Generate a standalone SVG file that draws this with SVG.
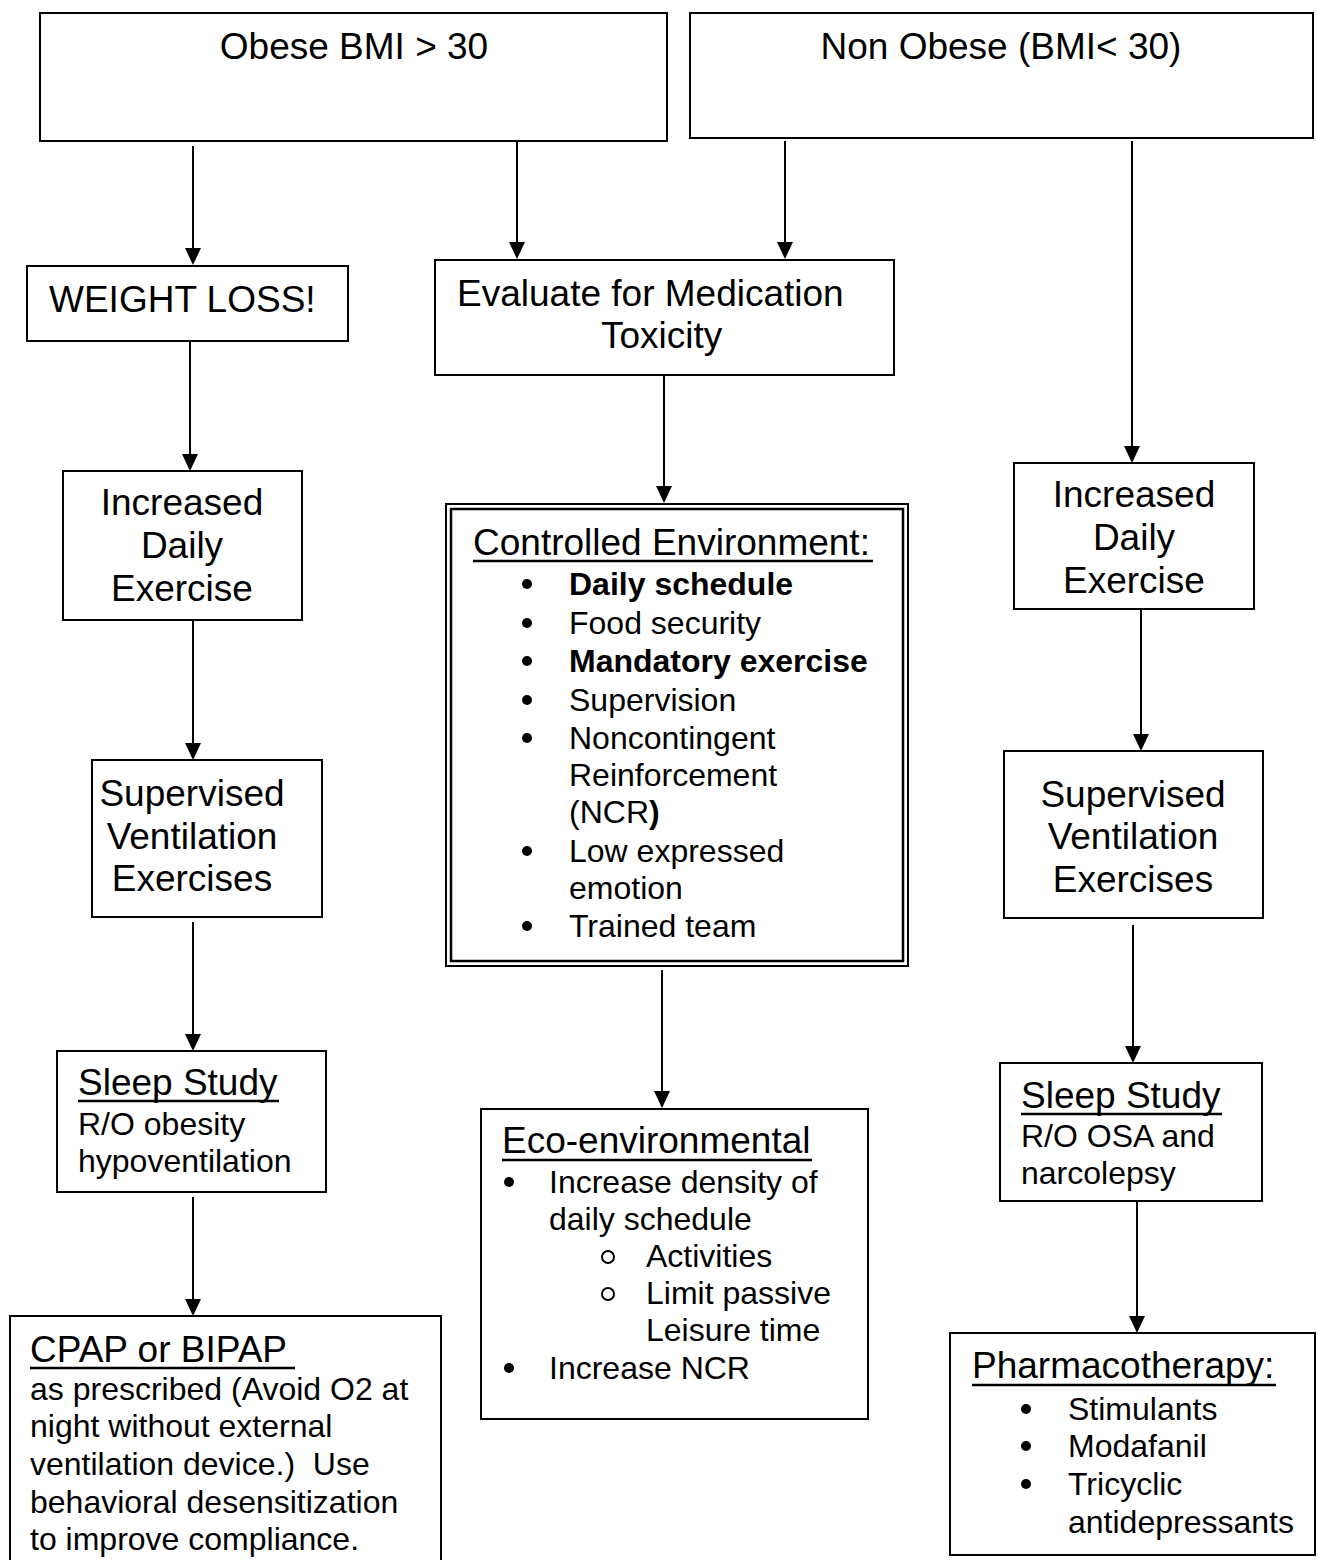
<svg xmlns="http://www.w3.org/2000/svg" width="1318" height="1560" viewBox="0 0 1318 1560">
<style>
.box{fill:#fff;stroke:#000;stroke-width:2}
.h{font-family:"Liberation Sans",Arial,sans-serif;font-size:37px;fill:#000}
.t{font-family:"Liberation Sans",Arial,sans-serif;font-size:32px;fill:#000}
.b{font-weight:bold}
.c{text-anchor:middle}
.ul{stroke:#000;stroke-width:2.5}
.conn line{stroke:#000;stroke-width:2;marker-end:url(#ah)}
</style>
<defs>
<marker id="ah" markerUnits="userSpaceOnUse" markerWidth="17" markerHeight="16" refX="0" refY="8" orient="auto" overflow="visible">
<path d="M0,0 L17,8 L0,16 Z" fill="#000"/>
</marker>
</defs>
<rect width="1318" height="1560" fill="#fff"/>

<g class="conn" id="connectors">
<line x1="193" y1="146" x2="193" y2="248"/>
<line x1="517" y1="141" x2="517" y2="242"/>
<line x1="785" y1="141" x2="785" y2="242"/>
<line x1="1132" y1="141" x2="1132" y2="446"/>
<line x1="190" y1="341" x2="190" y2="454"/>
<line x1="664" y1="375" x2="664" y2="486"/>
<line x1="193" y1="620" x2="193" y2="743"/>
<line x1="193" y1="922" x2="193" y2="1034"/>
<line x1="193" y1="1197" x2="193" y2="1299"/>
<line x1="662" y1="970" x2="662" y2="1091"/>
<line x1="1141" y1="609" x2="1141" y2="734"/>
<line x1="1133" y1="925" x2="1133" y2="1046"/>
<line x1="1137" y1="1201" x2="1137" y2="1316"/>
</g>

<g id="obese">
<rect class="box" x="40" y="13" width="627" height="128"/>
<text class="h c" x="354" y="59">Obese BMI &gt; 30</text>
</g>

<g id="nonobese">
<rect class="box" x="690" y="13" width="623" height="125"/>
<text class="h c" x="1001" y="59">Non Obese (BMI&lt; 30)</text>
</g>

<g id="weightloss">
<rect class="box" x="27" y="266" width="321" height="75"/>
<text class="h" x="49" y="312">WEIGHT LOSS!</text>
</g>

<g id="evaluate">
<rect class="box" x="435" y="260" width="459" height="115"/>
<text class="h" x="457" y="306">Evaluate for Medication</text>
<text class="h" x="601" y="348">Toxicity</text>
</g>

<g id="exercise-left">
<rect class="box" x="63" y="471" width="239" height="149"/>
<text class="h c" x="182" y="515">Increased</text>
<text class="h c" x="182" y="558">Daily</text>
<text class="h c" x="182" y="601">Exercise</text>
</g>

<g id="ventilation-left">
<rect class="box" x="92" y="760" width="230" height="157"/>
<text class="h c" x="192" y="806">Supervised</text>
<text class="h c" x="192" y="849">Ventilation</text>
<text class="h c" x="192" y="891">Exercises</text>
</g>

<g id="sleep-left">
<rect class="box" x="57" y="1051" width="269" height="141"/>
<text class="h" x="78" y="1095">Sleep Study</text>
<line class="ul" x1="78" y1="1101" x2="279" y2="1101"/>
<text class="t" x="78" y="1135">R/O obesity</text>
<text class="t" x="78" y="1172">hypoventilation</text>
</g>

<g id="cpap">
<rect class="box" x="10" y="1316" width="431" height="270"/>
<text class="h" x="30" y="1362">CPAP or BIPAP</text>
<line class="ul" x1="30" y1="1368" x2="295" y2="1368"/>
<text class="t" x="30" y="1400">as prescribed (Avoid O2 at</text>
<text class="t" x="30" y="1437">night without external</text>
<text class="t" x="30" y="1475" xml:space="preserve">ventilation device.)&#160; Use</text>
<text class="t" x="30" y="1513">behavioral desensitization</text>
<text class="t" x="30" y="1550">to improve compliance.</text>
</g>

<g id="controlled">
<rect x="446" y="504" width="462" height="462" fill="#fff" stroke="#000" stroke-width="2"/>
<rect x="451" y="509" width="452" height="452" fill="none" stroke="#000" stroke-width="2.5"/>
<text class="h" x="473" y="555">Controlled Environment:</text>
<line class="ul" x1="473" y1="561" x2="873" y2="561"/>
<circle cx="527" cy="584" r="5"/>
<text class="t b" x="569" y="595">Daily schedule</text>
<circle cx="527" cy="623" r="5"/>
<text class="t" x="569" y="634">Food security</text>
<circle cx="527" cy="661" r="5"/>
<text class="t b" x="569" y="672">Mandatory exercise</text>
<circle cx="527" cy="700" r="5"/>
<text class="t" x="569" y="711">Supervision</text>
<circle cx="527" cy="738" r="5"/>
<text class="t" x="569" y="749">Noncontingent</text>
<text class="t" x="569" y="786">Reinforcement</text>
<text class="t" x="569" y="823">(NCR<tspan class="b">)</tspan></text>
<circle cx="527" cy="851" r="5"/>
<text class="t" x="569" y="862">Low expressed</text>
<text class="t" x="569" y="899">emotion</text>
<circle cx="527" cy="926" r="5"/>
<text class="t" x="569" y="937">Trained team</text>
</g>

<g id="eco">
<rect class="box" x="481" y="1109" width="387" height="310"/>
<text class="h" x="502" y="1153">Eco-environmental</text>
<line class="ul" x1="502" y1="1160" x2="812" y2="1160"/>
<circle cx="509" cy="1182" r="5"/>
<text class="t" x="549" y="1193">Increase density of</text>
<text class="t" x="549" y="1230">daily schedule</text>
<circle cx="608" cy="1257" r="6" fill="none" stroke="#000" stroke-width="2"/>
<text class="t" x="646" y="1267">Activities</text>
<circle cx="608" cy="1294" r="6" fill="none" stroke="#000" stroke-width="2"/>
<text class="t" x="646" y="1304">Limit passive</text>
<text class="t" x="646" y="1341">Leisure time</text>
<circle cx="509" cy="1368" r="5"/>
<text class="t" x="549" y="1379">Increase NCR</text>
</g>

<g id="exercise-right">
<rect class="box" x="1014" y="463" width="240" height="146"/>
<text class="h c" x="1134" y="507">Increased</text>
<text class="h c" x="1134" y="550">Daily</text>
<text class="h c" x="1134" y="593">Exercise</text>
</g>

<g id="ventilation-right">
<rect class="box" x="1004" y="751" width="259" height="167"/>
<text class="h c" x="1133" y="807">Supervised</text>
<text class="h c" x="1133" y="849">Ventilation</text>
<text class="h c" x="1133" y="892">Exercises</text>
</g>

<g id="sleep-right">
<rect class="box" x="1000" y="1063" width="262" height="138"/>
<text class="h" x="1021" y="1108">Sleep Study</text>
<line class="ul" x1="1021" y1="1114" x2="1222" y2="1114"/>
<text class="t" x="1021" y="1147">R/O OSA and</text>
<text class="t" x="1021" y="1184">narcolepsy</text>
</g>

<g id="pharmacotherapy">
<rect class="box" x="950" y="1333" width="365" height="222"/>
<text class="h" x="972" y="1378">Pharmacotherapy:</text>
<line class="ul" x1="972" y1="1385" x2="1276" y2="1385"/>
<circle cx="1026" cy="1409" r="5"/>
<text class="t" x="1068" y="1420">Stimulants</text>
<circle cx="1026" cy="1446" r="5"/>
<text class="t" x="1068" y="1457">Modafanil</text>
<circle cx="1026" cy="1484" r="5"/>
<text class="t" x="1068" y="1495">Tricyclic</text>
<text class="t" x="1068" y="1533">antidepressants</text>
</g>
</svg>
